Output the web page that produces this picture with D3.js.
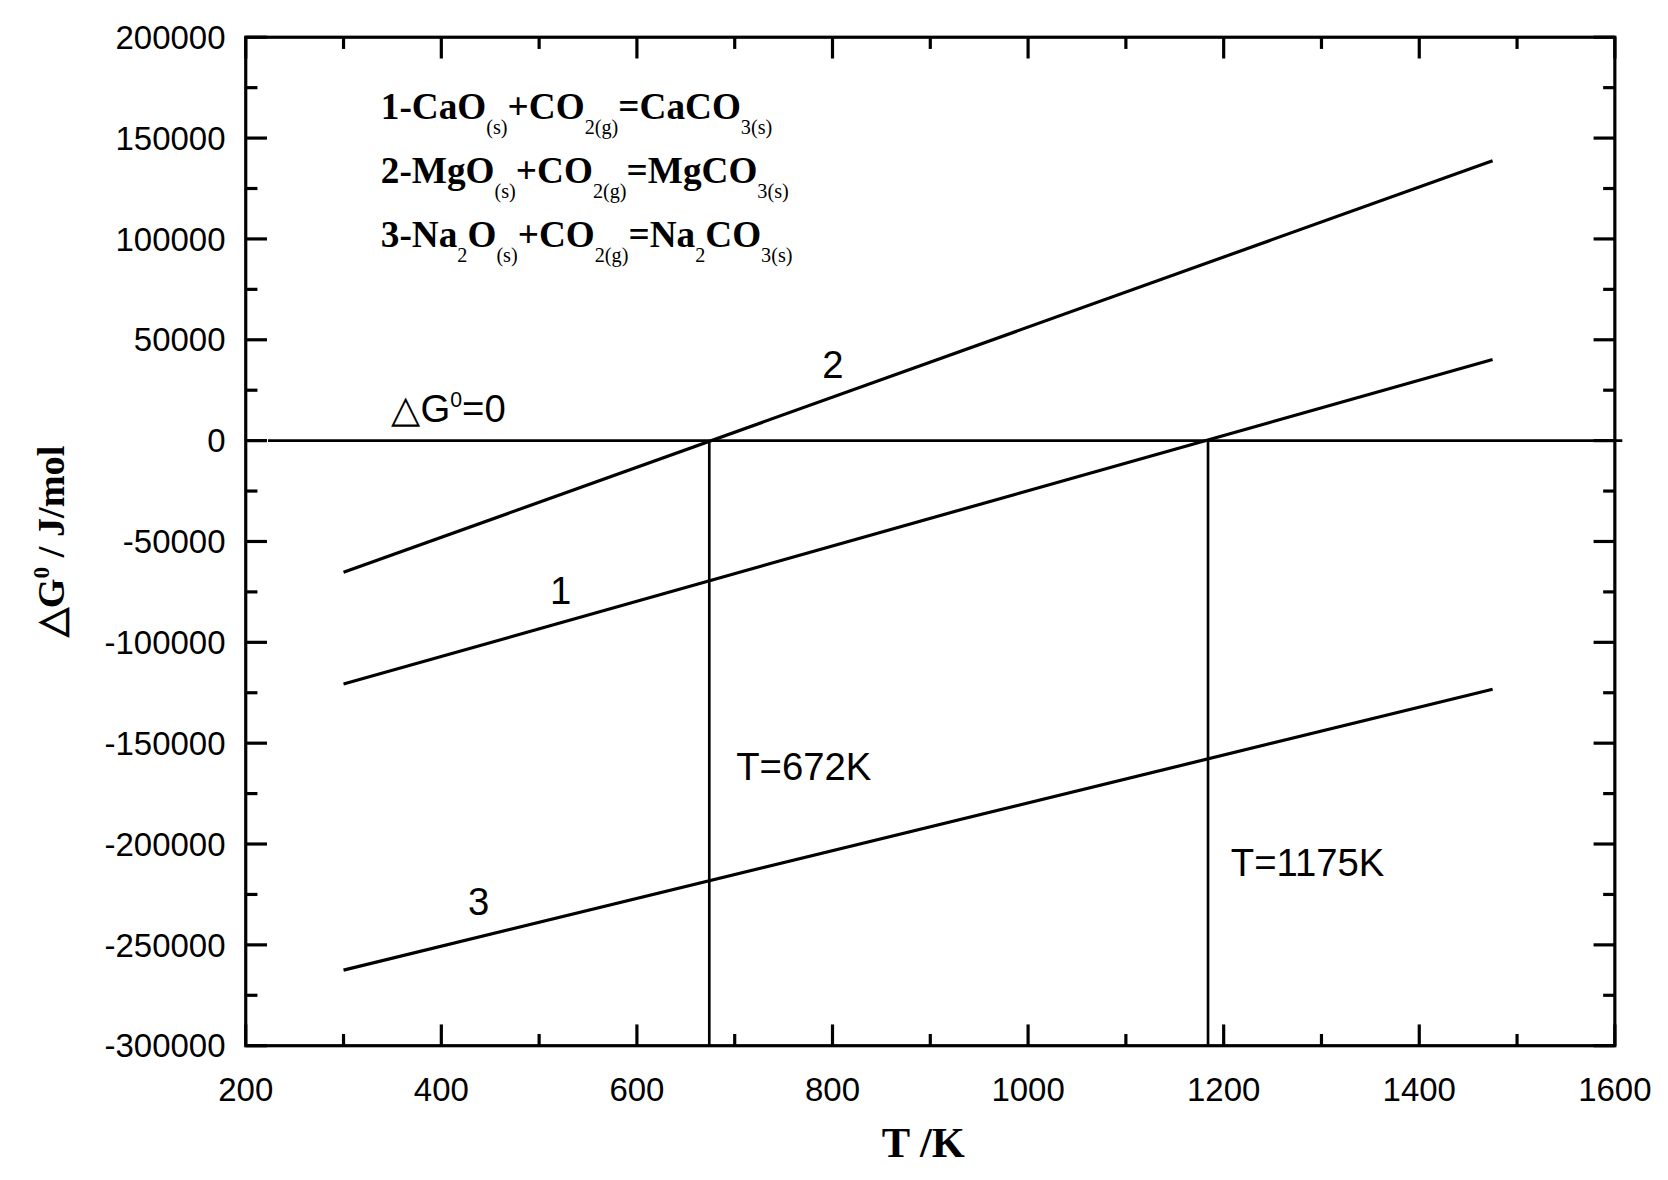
<!DOCTYPE html>
<html lang="en">
<head>
  <meta charset="UTF-8">
  <script src="https://d3js.org/d3.v7.min.js"></script>
  <style>
    body { margin: 0; background: #fff; }
    text { fill: #000; }
  </style>
</head>
<body>
  <svg width="1668" height="1180"></svg>
  <script>
    // Data
    const temps = [300, 1475];
    const line1 = [-120700, 40200];   // CaO
    const line2 = [-65300, 138800];   // MgO
    const line3 = [-262500, -123300]; // Na2O
    const lineLabels = ["1", "2", "3"];
    const crossT = [674, 1184];
    const crossLabels = ["T=672K", "T=1175K"];
    const xTicks = [200, 400, 600, 800, 1000, 1200, 1400, 1600];
    const yTicks = [200000, 150000, 100000, 50000, 0, -50000, -100000, -150000, -200000, -250000, -300000];

    // layout was measured on a 1568-wide view, scale up to the real page
    const svg = d3.select("svg").append("g").attr("transform", "scale(1.0638)");
    const x = d3.scaleLinear().domain([200, 1600]).range([231, 1518]);
    const y = d3.scaleLinear().domain([-300000, 200000]).range([983, 35]);
    const ink = "#000";

    // Frame
    svg.append("rect").attr("x", 231).attr("y", 35).attr("width", 1287).attr("height", 948)
      .attr("fill", "none").attr("stroke", ink).attr("stroke-width", 3);

    // Ticks (inward, all sides)
    const xMinor = d3.range(300, 1600, 200);
    const yMinor = d3.range(-275000, 200000, 50000);
    const tk = svg.append("g").attr("stroke", ink).attr("stroke-width", 3);
    xTicks.concat(xMinor).forEach(v => {
      const len = xTicks.includes(v) ? 20 : 11;
      tk.append("line").attr("x1", x(v)).attr("x2", x(v)).attr("y1", 983).attr("y2", 983 - len);
      tk.append("line").attr("x1", x(v)).attr("x2", x(v)).attr("y1", 35).attr("y2", 35 + len);
    });
    yTicks.concat(yMinor).forEach(v => {
      const len = yTicks.includes(v) ? 20 : 11;
      tk.append("line").attr("y1", y(v)).attr("y2", y(v)).attr("x1", 231).attr("x2", 231 + len);
      tk.append("line").attr("y1", y(v)).attr("y2", y(v)).attr("x1", 1518).attr("x2", 1518 - len);
    });

    // Tick labels
    svg.append("g").selectAll("text").data(xTicks).join("text")
      .attr("x", d => x(d)).attr("y", 1035).attr("text-anchor", "middle")
      .attr("font-family", "Liberation Sans, Arial, sans-serif").attr("font-size", 31)
      .text(d => d);
    svg.append("g").selectAll("text").data(yTicks).join("text")
      .attr("x", 212).attr("y", d => y(d) + 11).attr("text-anchor", "end")
      .attr("font-family", "Liberation Sans, Arial, sans-serif").attr("font-size", 31)
      .text(d => d);

    // Axis titles
    svg.append("text").attr("x", 868).attr("y", 1088).attr("text-anchor", "middle")
      .attr("font-family", "Liberation Serif, serif").attr("font-weight", "bold").attr("font-size", 40)
      .text("T /K");
    const yt = svg.append("text").attr("transform", "translate(60,509) rotate(-90)")
      .attr("text-anchor", "middle").attr("font-family", "Liberation Serif, serif")
      .attr("font-weight", "bold").attr("font-size", 36);
    yt.append("tspan").text("\u25B3G");
    yt.append("tspan").attr("dy", -14).attr("font-size", 22).text("0");
    yt.append("tspan").attr("dy", 14).text(" / J/mol");

    // Zero line and crossing verticals
    svg.append("line").attr("x1", 252).attr("x2", 1525).attr("y1", y(0)).attr("y2", y(0))
      .attr("stroke", ink).attr("stroke-width", 2.5);
    crossT.forEach(t => {
      svg.append("line").attr("x1", x(t)).attr("x2", x(t)).attr("y1", y(0)).attr("y2", 983)
        .attr("stroke", ink).attr("stroke-width", 2.5);
    });

    // Reaction lines
    const line = d3.line().x(d => x(d[0])).y(d => y(d[1]));
    [line1, line2, line3].forEach(s => {
      svg.append("path").attr("d", line(temps.map((t, i) => [t, s[i]])))
        .attr("fill", "none").attr("stroke", ink).attr("stroke-width", 3);
    });

    // Annotations
    const sans = "Liberation Sans, Arial, sans-serif";
    const ann = (tx, ty, s, size) => svg.append("text").attr("x", tx).attr("y", ty)
      .attr("font-family", sans).attr("font-size", size || 36).text(s);
    ann(517, 568, lineLabels[0]);
    ann(773, 355, lineLabels[1]);
    ann(440, 860, lineLabels[2]);
    ann(692, 733, crossLabels[0]);
    ann(1157, 823, crossLabels[1]);
    const z = svg.append("text").attr("x", 368).attr("y", 397).attr("font-family", sans).attr("font-size", 36);
    z.append("tspan").text("\u25B3G");
    z.append("tspan").attr("dy", -14).attr("font-size", 20).text("0");
    z.append("tspan").attr("dy", 14).text("=0");

    // Legend with subscripts
    const legend = [
      [["1-CaO", 0], ["(s)", 1], ["+CO", 0], ["2(g)", 1], ["=CaCO", 0], ["3(s)", 1]],
      [["2-MgO", 0], ["(s)", 1], ["+CO", 0], ["2(g)", 1], ["=MgCO", 0], ["3(s)", 1]],
      [["3-Na", 0], ["2", 1], ["O", 0], ["(s)", 1], ["+CO", 0], ["2(g)", 1], ["=Na", 0], ["2", 1], ["CO", 0], ["3(s)", 1]]
    ];
    legend.forEach((parts, i) => {
      const t = svg.append("text").attr("x", 358).attr("y", 112 + i * 60)
        .attr("font-family", "Liberation Serif, serif").attr("font-weight", "bold").attr("font-size", 35);
      let sub = false;
      parts.forEach(([s, isSub]) => {
        const sp = t.append("tspan").text(s);
        if (isSub && !sub) sp.attr("dy", 14).attr("font-size", 19).attr("font-weight", "normal");
        else if (isSub) sp.attr("font-size", 19).attr("font-weight", "normal");
        else if (sub) sp.attr("dy", -14);
        sub = !!isSub;
      });
    });
  </script>
</body>
</html>
